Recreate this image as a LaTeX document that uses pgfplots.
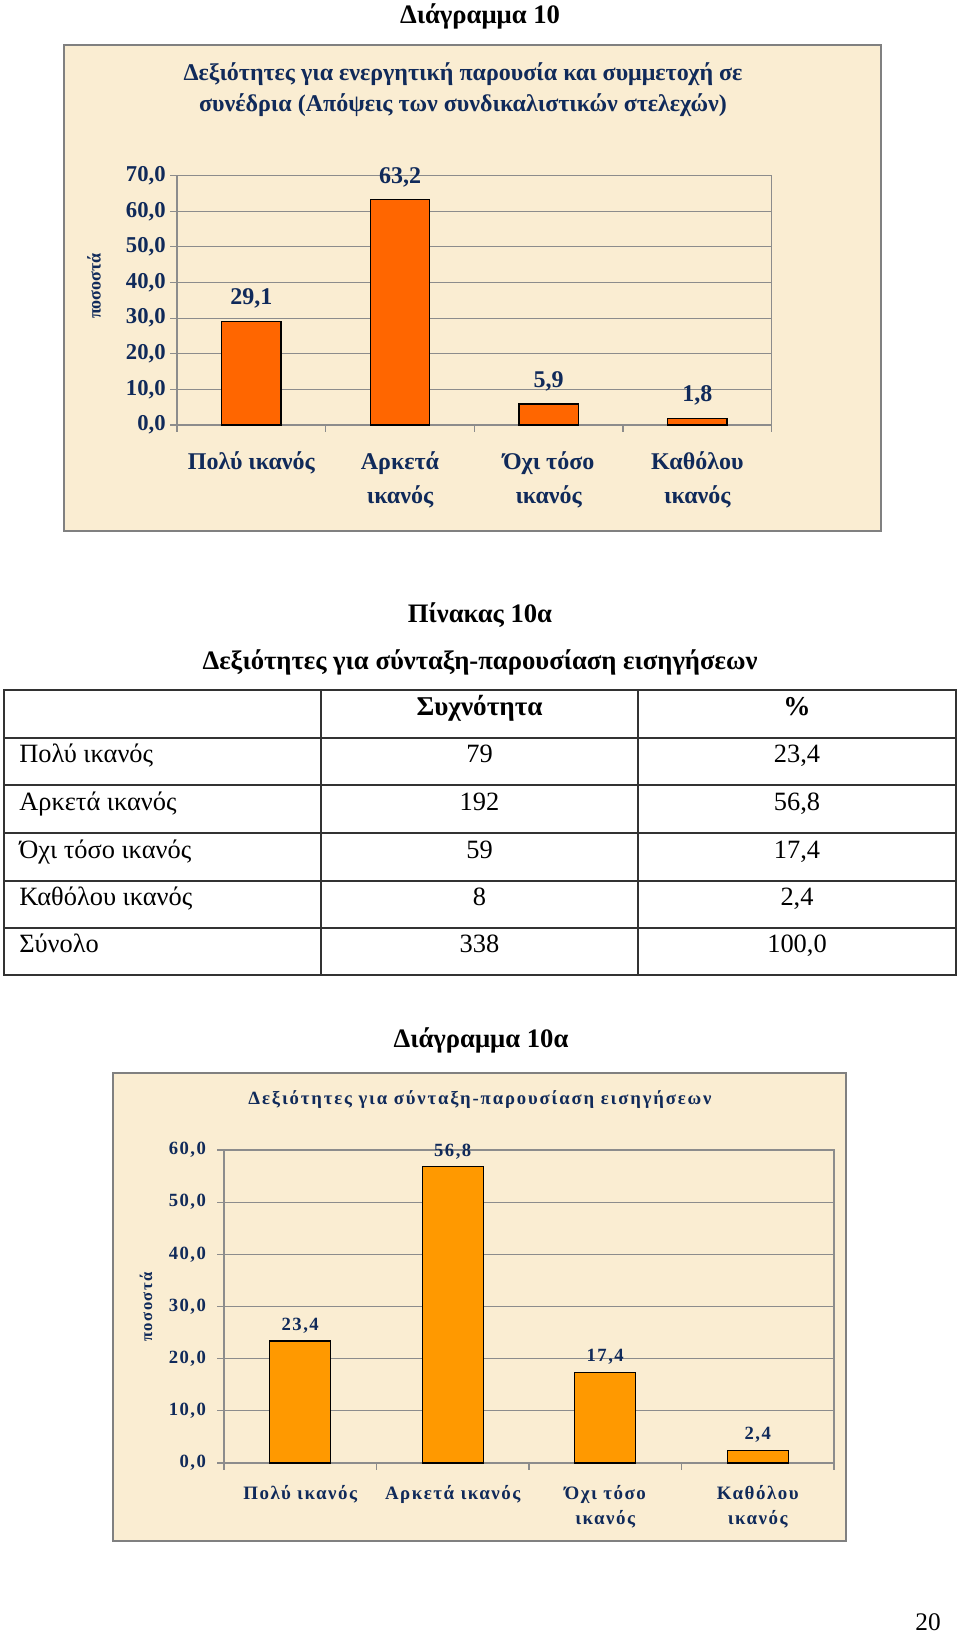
\documentclass[border=0pt]{standalone}
\usepackage{fontspec}
\setmainfont{Liberation Serif}
\newfontfamily\spaced[LetterSpace=8]{Liberation Serif}
\newfontfamily\spacedt[LetterSpace=10]{Liberation Serif}
\usepackage{pgfplots}
\pgfplotsset{compat=1.18}
\definecolor{navy}{RGB}{16,42,90}
\definecolor{parch}{RGB}{250,237,210}
\definecolor{framec}{RGB}{128,128,128}
\definecolor{gridc}{RGB}{140,140,140}
\definecolor{orA}{RGB}{255,102,0}
\definecolor{orB}{RGB}{255,153,0}
\definecolor{tline}{RGB}{50,50,50}
\pgfplotstableread{
x y
0 29.1
1 63.2
2 5.9
3 1.8
}\dataA
\pgfplotstableread{
x y
0 23.4
1 56.8
2 17.4
3 2.4
}\dataB
\begin{document}
\begin{tikzpicture}
\path[fill=white,use as bounding box] (0,0) rectangle (720pt,-1224.75pt);
\begin{scope}[x=0.75pt,y=-0.75pt]
% ---------- Chart 1 frame ----------
\node[font=\fontsize{20}{24}\selectfont\bfseries,anchor=base] at (480,24) {Διάγραμμα 10};
\draw[framec,fill=parch,line width=1pt] (64,45) rectangle (881,531);
\node[font=\fontsize{18}{21}\selectfont\bfseries,text=navy,anchor=base] at (463,81) {Δεξιότητες για ενεργητική παρουσία και συμμετοχή σε};
\node[font=\fontsize{18}{21}\selectfont\bfseries,text=navy,anchor=base] at (463,112) {συνέδρια (Απόψεις των συνδικαλιστικών στελεχών)};
\node[font=\fontsize{13.5}{16}\selectfont\bfseries,text=navy,rotate=90] at (94,286) {ποσοστά};
% ---------- Table ----------
\node[font=\fontsize{20}{24}\selectfont\bfseries,anchor=base] at (480,622) {Πίνακας 10α};
\node[font=\fontsize{20}{24}\selectfont\bfseries,anchor=base] at (480,669) {Δεξιότητες για σύνταξη-παρουσίαση εισηγήσεων};
\draw[tline,line width=1.3pt] (4,690) rectangle (956,975);
\foreach \yy in {738,785,833,881,928} \draw[tline,line width=1.3pt] (4,\yy) -- (956,\yy);
\draw[tline,line width=1.3pt] (321,690) -- (321,975);
\draw[tline,line width=1.3pt] (638,690) -- (638,975);
\begin{scope}[every node/.style={font=\fontsize{19.8}{23}\selectfont,anchor=base,inner sep=0pt}]
\node[font=\fontsize{20.4}{24}\selectfont\bfseries] at (479.5,715) {Συχνότητα};
\node[font=\fontsize{20.4}{24}\selectfont\bfseries] at (797,715) {\%};
\node[anchor=base west] at (19,762) {Πολύ ικανός};
\node at (479.5,762) {79}; \node at (797,762) {23,4};
\node[anchor=base west] at (19,810) {Αρκετά ικανός};
\node at (479.5,810) {192}; \node at (797,810) {56,8};
\node[anchor=base west] at (19,858) {Όχι τόσο ικανός};
\node at (479.5,858) {59}; \node at (797,858) {17,4};
\node[anchor=base west] at (19,905) {Καθόλου ικανός};
\node at (479.5,905) {8}; \node at (797,905) {2,4};
\node[anchor=base west] at (19,952) {Σύνολο};
\node at (479.5,952) {338}; \node at (797,952) {100,0};
\end{scope}
% ---------- Chart 2 frame ----------
\node[font=\fontsize{20}{24}\selectfont\bfseries,anchor=base] at (481,1047) {Διάγραμμα 10α};
\draw[framec,fill=parch,line width=1pt] (113,1073) rectangle (846,1541);
\node[font=\spacedt\fontsize{14}{16}\selectfont\bfseries,text=navy,anchor=base] at (480,1104) {Δεξιότητες για σύνταξη-παρουσίαση εισηγήσεων};
\node[font=\spaced\fontsize{12.5}{16}\selectfont\bfseries,text=navy,rotate=90] at (146,1307) {ποσοστά};
\node[font=\fontsize{19}{23}\selectfont,anchor=base east,inner sep=0pt] at (941,1630) {20};
\end{scope}
% ---------- Axis 1 ----------
\begin{axis}[
  at={(132.75pt,-318.75pt)}, anchor=south west,
  scale only axis, width=446pt, height=187pt,
  xmin=-0.5, xmax=3.5, ymin=0, ymax=70,
  ytick={0,10,...,70},
  xtick={-0.5,0.5,1.5,2.5,3.5},
  x tick label as interval,
  xticklabels={{Πολύ ικανός},{Αρκετά\\ικανός},{Όχι τόσο\\ικανός},{Καθόλου\\ικανός}},
  xtick pos=bottom, ytick pos=left,
  tick align=outside, major tick length=5pt,
  tick style={gridc, line width=0.8pt},
  axis line style={gridc, line width=0.9pt},
  ymajorgrids, grid style={gridc, line width=0.8pt},
  yticklabel style={font=\fontsize{17}{20}\selectfont\bfseries, text=navy},
  xticklabel style={font=\fontsize{18}{25.5}\selectfont\bfseries, text=navy, align=center, yshift=-11.5pt},
  /pgf/number format/assume math mode=true,
  yticklabel={\pgfmathprintnumber[fixed,fixed zerofill,precision=1,use comma]{\tick}},
  ybar, bar width=0.4,
  nodes near coords={\pgfmathprintnumber[fixed,fixed zerofill,precision=1,use comma]{\pgfplotspointmeta}},
  every node near coord/.append style={font=\fontsize{18}{20}\selectfont\bfseries, text=navy, anchor=base, yshift=12.5pt},
]
\addplot[fill=orA, draw=black, line width=0.9pt] table[x=x,y=y] {\dataA};
\end{axis}
% ---------- Axis 2 ----------
\begin{axis}[
  at={(168pt,-1097.25pt)}, anchor=south west,
  scale only axis, width=457.5pt, height=234.75pt,
  xmin=-0.5, xmax=3.5, ymin=0, ymax=60,
  ytick={0,10,...,60},
  xtick={-0.5,0.5,1.5,2.5,3.5},
  x tick label as interval,
  xticklabels={{Πολύ ικανός},{Αρκετά ικανός},{Όχι τόσο\\ικανός},{Καθόλου\\ικανός}},
  xtick pos=bottom, ytick pos=left,
  tick align=outside, major tick length=5pt,
  tick style={gridc, line width=0.8pt},
  axis line style={gridc, line width=0.9pt},
  ymajorgrids, grid style={gridc, line width=0.8pt},
  yticklabel style={font=\spaced\fontsize{14}{16}\selectfont\bfseries, text=navy, xshift=-5pt},
  xticklabel style={font=\spaced\fontsize{14.2}{18.5}\selectfont\bfseries, text=navy, align=center, yshift=-8.5pt},
  /pgf/number format/assume math mode=true,
  yticklabel={\pgfmathprintnumber[fixed,fixed zerofill,precision=1,use comma]{\tick}},
  ybar, bar width=0.4,
  nodes near coords={\pgfmathprintnumber[fixed,fixed zerofill,precision=1,use comma]{\pgfplotspointmeta}},
  every node near coord/.append style={font=\spaced\fontsize{14}{16}\selectfont\bfseries, text=navy, anchor=base, yshift=8pt},
]
\addplot[fill=orB, draw=black, line width=0.9pt] table[x=x,y=y] {\dataB};
\end{axis}
\end{tikzpicture}
\end{document}
